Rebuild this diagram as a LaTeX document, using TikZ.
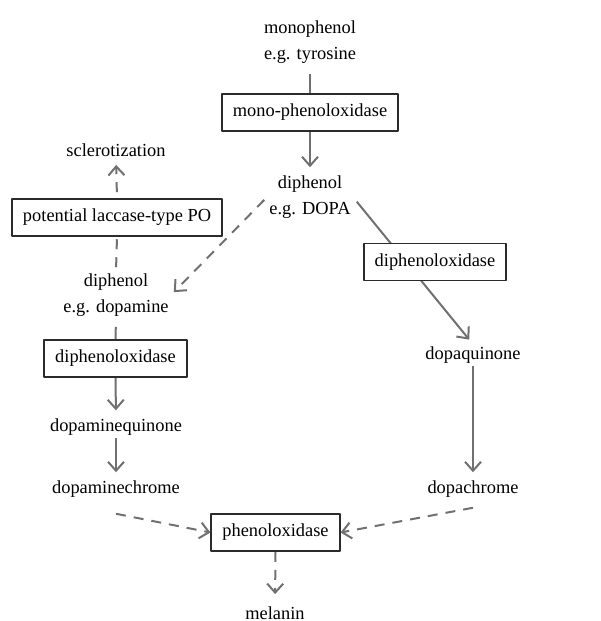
\documentclass[tikz,border=0pt]{standalone}
\usepackage{fontspec}
\setmainfont{Liberation Serif}
\usetikzlibrary{arrows.meta,backgrounds}
\definecolor{arrgray}{HTML}{707070}
\definecolor{boxline}{HTML}{2B2B2B}
\begin{document}
\begin{tikzpicture}[x=0.5pt, y=-0.5pt, font=\fontsize{9.2}{13}\selectfont, line join=round,
	>={Straight Barb[length=4.5pt,width=8pt]},
	enz/.style={draw=boxline, line width=0.9pt, fill=white, inner xsep=5.5pt, minimum height=18.5pt},
	txt/.style={align=center, inner sep=1pt},
	flow/.style={draw=arrgray, line width=1pt},
	maybe/.style={flow, dash pattern=on 5pt off 4pt}]
	\useasboundingbox (0,0) rectangle (600,621);
	\path
	(310,42) node[txt] (mono) {monophenol\\e.g. tyrosine}
	(310,112.5) node[enz] (mpo) {mono-phenoloxidase}
	(310,197) node[txt] (dopa) {diphenol\\e.g. DOPA}
	(116,150) node[txt] (scl) {sclerotization}
	(117,217.5) node[enz] (lpo) {potential laccase-type PO}
	(116,295) node[txt] (dopamine) {diphenol\\e.g. dopamine}
	(435,262) node[enz] (dpoR) {diphenoloxidase}
	(115.5,358.5) node[enz] (dpoL) {diphenoloxidase}
	(116,427) node[txt] (dmq) {dopaminequinone}
	(116,489) node[txt] (dmc) {dopaminechrome}
	(473,355) node[txt] (dq) {dopaquinone}
	(473,489) node[txt] (dc) {dopachrome}
	(275.5,532.5) node[enz] (po) {phenoloxidase}
	(275,613) node[txt] (mel) {melanin}
	;
	\begin{scope}[on background layer]
		\foreach \a/\b in {mono/mpo,dopamine/dpoL}
		\draw[flow, shorten <=4pt] (\a.south)--(\b.north);
		\foreach \a/\b in {mpo/dopa,dpoL/dmq,dmq/dmc,dq/dc}
		\draw[flow, ->, shorten >=3pt] (\a.south)--(\b.north);
		\draw[flow, ->, shorten <=3pt, shorten >=3pt] (dopa.east)--(dq.north);
		\draw[maybe, shorten <=2pt] (dopamine.north)--(lpo.south);
		\draw[maybe, ->, shorten <=3pt, shorten >=3pt] (lpo.north)--(scl.south);
		\draw[maybe, ->, shorten >=5pt] (po.south)--(mel.north);
		\draw[maybe, ->, shorten <=2pt, shorten >=2pt] (dopa.west)--(dopamine.east);
		\draw[maybe, ->] ([yshift=-7pt]dmc.south)--(po.west);
		\draw[maybe, ->] ([yshift=-4pt]dc.south)--(po.east);
	\end{scope}
\end{tikzpicture}
\end{document}
